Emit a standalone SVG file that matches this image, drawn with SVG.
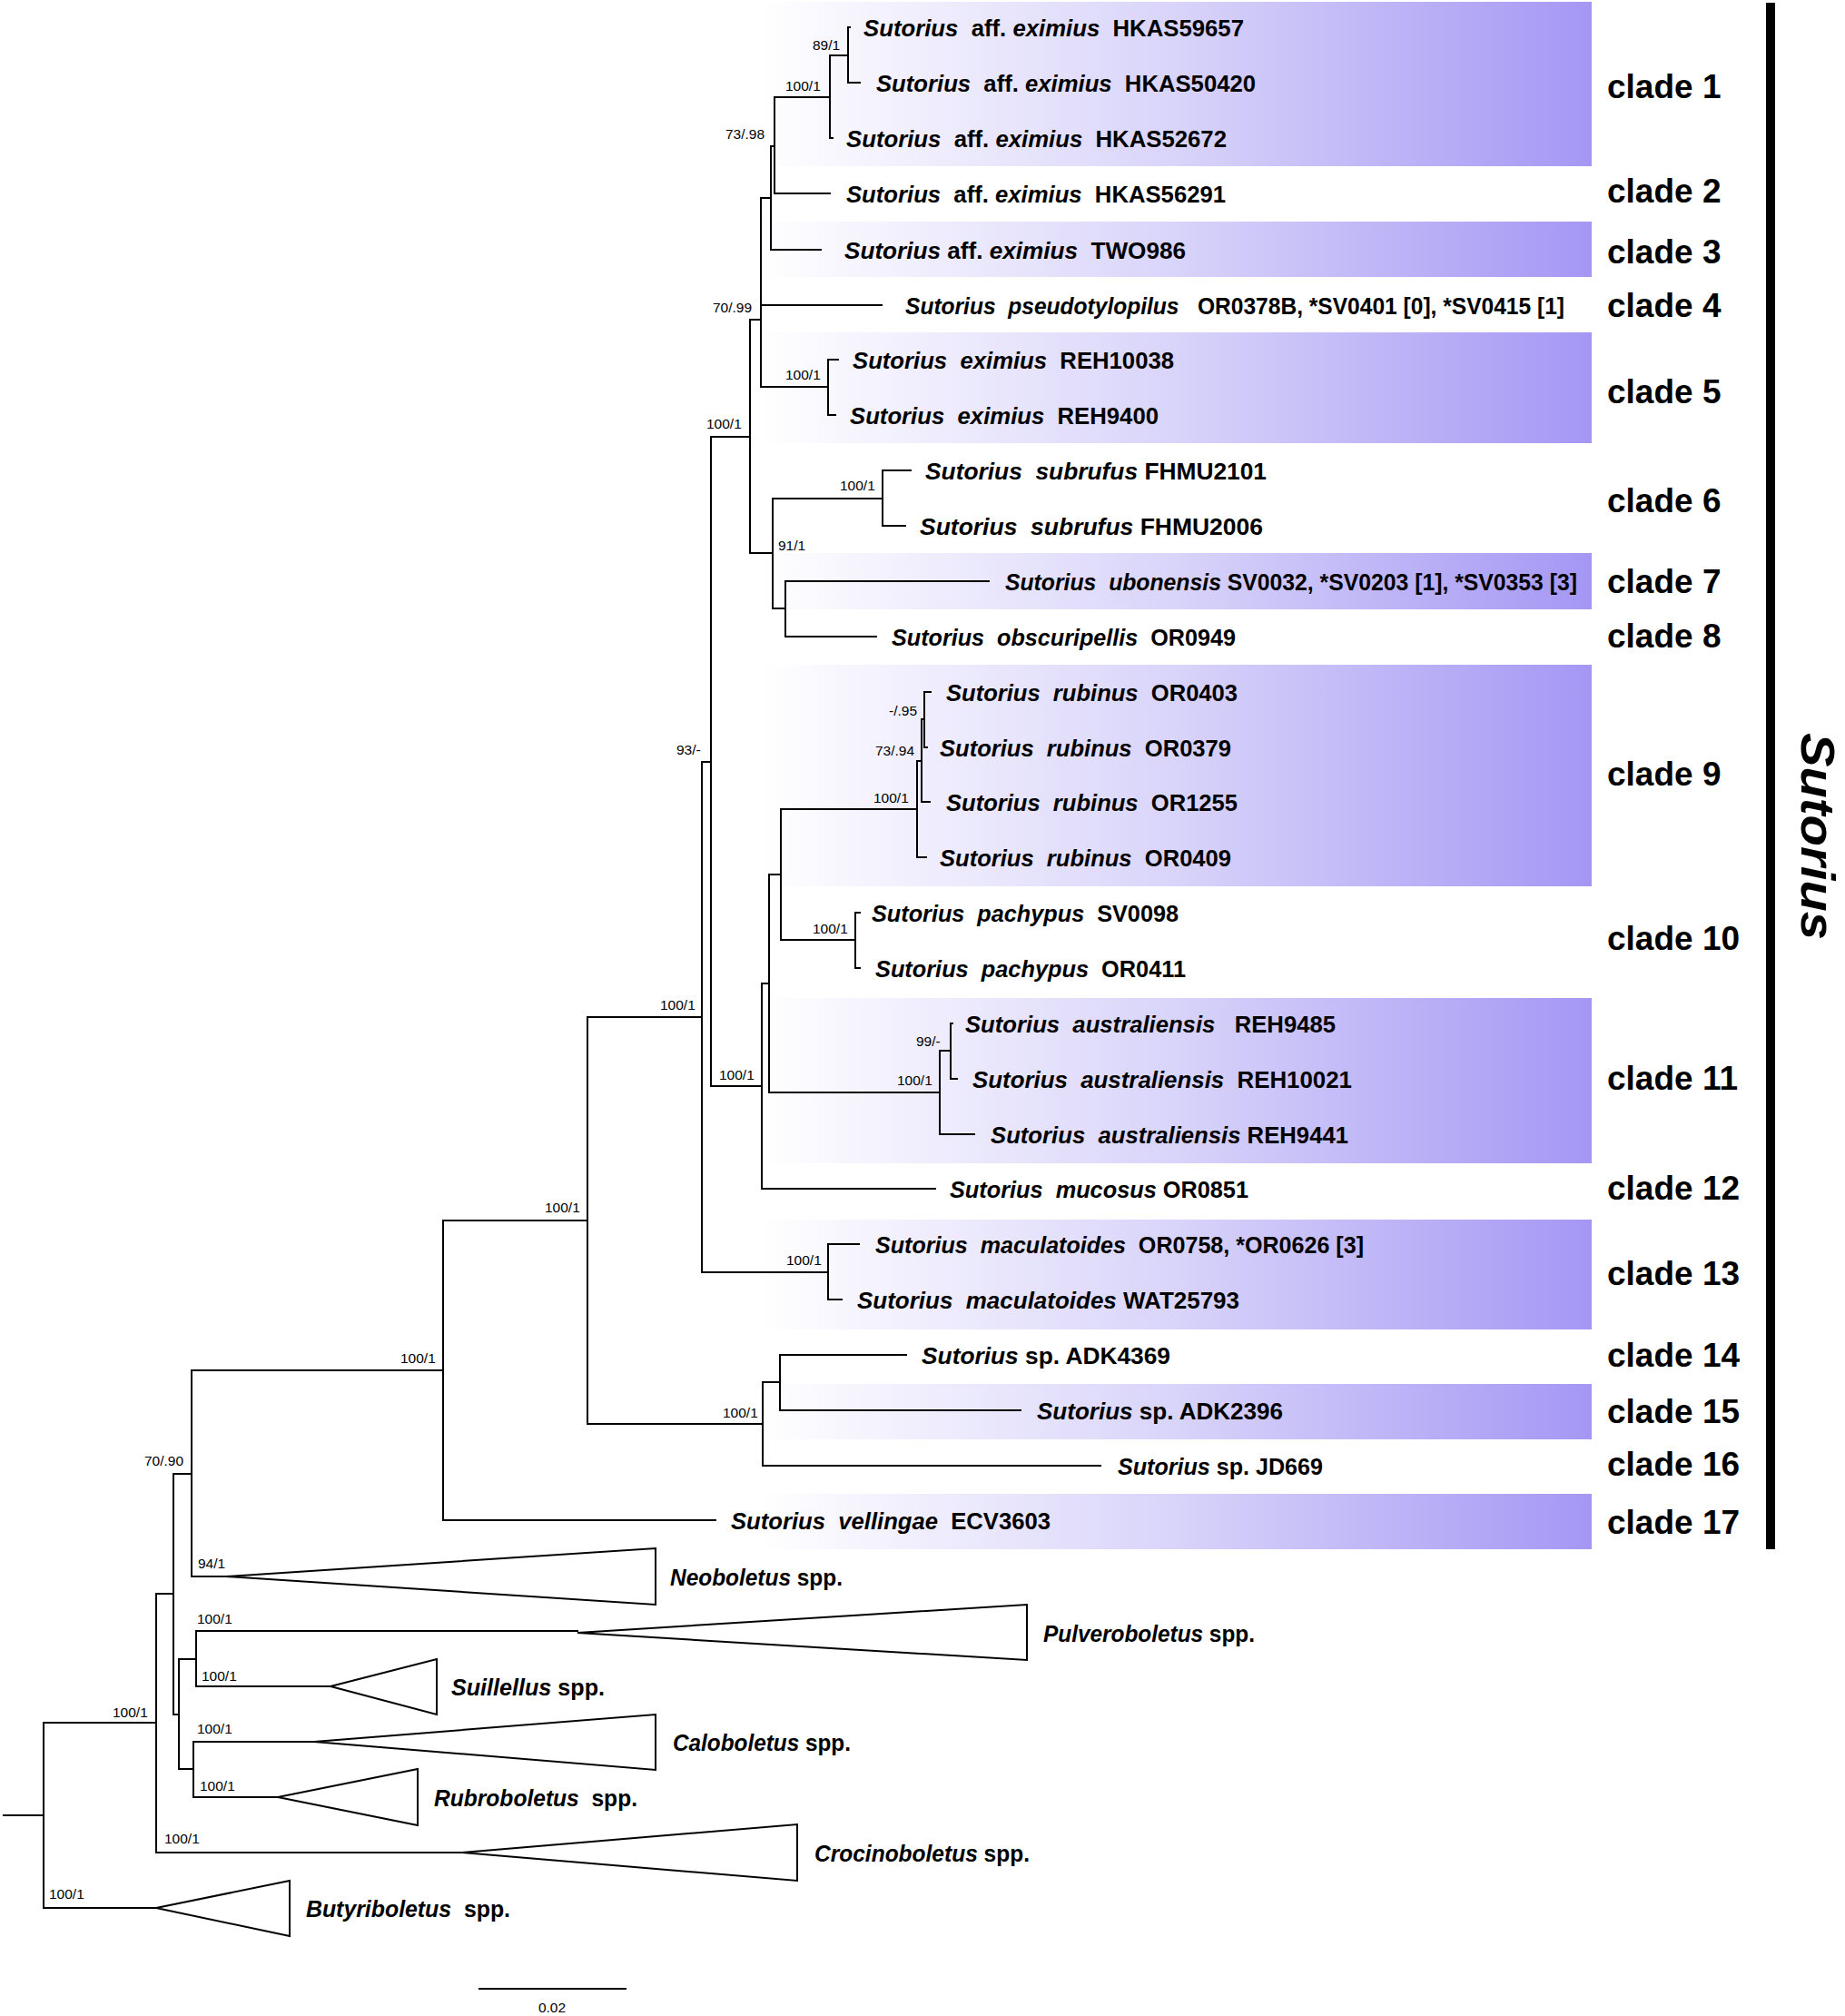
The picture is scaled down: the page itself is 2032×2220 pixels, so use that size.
<svg xmlns="http://www.w3.org/2000/svg" width="2032" height="2220" viewBox="0 0 2032 2220">
<defs>
<linearGradient id="g" gradientUnits="userSpaceOnUse" x1="835" y1="0" x2="1753" y2="0">
<stop offset="0" stop-color="#ffffff"/>
<stop offset="0.5" stop-color="#d9d4fa"/>
<stop offset="1" stop-color="#a497f4"/>
</linearGradient>
<style>
.tx{font-family:"Liberation Sans",Arial,sans-serif;font-weight:bold;font-size:25px;fill:#000}
.i{font-style:italic}
.sp{font-family:"Liberation Sans",Arial,sans-serif;font-size:15.5px;fill:#000}
.cl{font-family:"Liberation Sans",Arial,sans-serif;font-weight:bold;font-size:37px;fill:#000}
.br{fill:none;stroke:#000;stroke-width:2;stroke-linecap:square}
.tri{fill:#fff;stroke:#000;stroke-width:2;stroke-linejoin:miter}
.box{fill:url(#g)}
</style>
</defs>
<rect width="2032" height="2220" fill="#fff"/>
<g id="shading">
<rect class="box" x="840" y="2" width="913" height="181"/>
<rect class="box" x="840" y="244" width="913" height="61"/>
<rect class="box" x="835" y="366" width="918" height="122"/>
<rect class="box" x="840" y="609" width="913" height="62"/>
<rect class="box" x="834" y="732" width="919" height="244"/>
<rect class="box" x="830" y="1099" width="923" height="182"/>
<rect class="box" x="830" y="1343" width="923" height="121"/>
<rect class="box" x="845" y="1524" width="908" height="61"/>
<rect class="box" x="790" y="1645" width="963" height="61"/>
</g>
<g id="connectors" class="br">
<path d="M4 1999H48M48 1897V2101M48 1897H172M48 2101H172"/>
<path d="M172 1755V2040M172 1755H191M172 2040H509"/>
<path d="M191 1623V1888M191 1623H211M191 1888H197"/>
<path d="M197 1827V1948M197 1827H216M197 1948H213"/>
<path d="M216 1796V1857M216 1796H636M216 1857H364"/>
<path d="M213 1918V1979M213 1918H346M213 1979H306"/>
<path d="M211 1509V1736M211 1509H488M211 1736H249"/>
<path d="M488 1344V1674M488 1344H647M488 1674H788"/>
<path d="M647 1120V1568M647 1120H773M647 1568H840"/>
<path d="M840 1522V1614M840 1522H859M840 1614H1212"/>
<path d="M859 1492V1553M859 1492H998M859 1553H1124"/>
<path d="M773 839V1401M773 839H783M773 1401H912"/>
<path d="M912 1370V1431M912 1370H946M912 1431H927"/>
<path d="M783 481V1196M783 481H826M783 1196H839"/>
<path d="M839 1083V1309M839 1083H847M839 1309H1030"/>
<path d="M847 963V1203M847 963H860M847 1203H1035"/>
<path d="M860 891V1035M860 891H1010M860 1035H942"/>
<path d="M942 1005V1066M942 1005H947M942 1066H947"/>
<path d="M1010 838V944M1010 838H1015M1010 944H1020"/>
<path d="M1015 792V883M1015 792H1018M1015 883H1024"/>
<path d="M1018 762V823M1018 762H1025M1018 823H1021"/>
<path d="M1035 1157V1249M1035 1157H1047M1035 1249H1073"/>
<path d="M1047 1127V1188M1047 1127H1049M1047 1188H1054"/>
<path d="M826 352V609M826 352H838M826 609H851"/>
<path d="M838 218V426M838 218H849M838 336H971M838 426H912"/>
<path d="M849 161V275M849 161H853M849 275H904"/>
<path d="M853 107V213M853 107H914M853 213H914"/>
<path d="M914 61V152M914 61H934M914 152H917"/>
<path d="M934 30V91M934 30H936M934 91H947"/>
<path d="M912 396V457M912 396H923M912 457H920"/>
<path d="M851 549V670M851 549H972M851 670H865"/>
<path d="M972 518V579M972 518H1003M972 579H997"/>
<path d="M865 640V701M865 640H1089M865 701H965"/>
<path d="M528 2190H689"/>
</g>
<g id="supports" class="sp">
<text x="895" y="55">89/1</text>
<text x="865" y="100">100/1</text>
<text x="799" y="153">73/.98</text>
<text x="785" y="344">70/.99</text>
<text x="865" y="418">100/1</text>
<text x="778" y="472">100/1</text>
<text x="925" y="540">100/1</text>
<text x="857" y="606">91/1</text>
<text x="979" y="788">-/.95</text>
<text x="964" y="832">73/.94</text>
<text x="962" y="884">100/1</text>
<text x="745" y="831">93/-</text>
<text x="895" y="1028">100/1</text>
<text x="727" y="1112">100/1</text>
<text x="1009" y="1152">99/-</text>
<text x="792" y="1189">100/1</text>
<text x="988" y="1195">100/1</text>
<text x="866" y="1393">100/1</text>
<text x="600" y="1335">100/1</text>
<text x="796" y="1561">100/1</text>
<text x="441" y="1501">100/1</text>
<text x="159" y="1614">70/.90</text>
<text x="218" y="1727">94/1</text>
<text x="217" y="1788">100/1</text>
<text x="222" y="1851">100/1</text>
<text x="217" y="1909">100/1</text>
<text x="220" y="1972">100/1</text>
<text x="181" y="2030">100/1</text>
<text x="124" y="1891">100/1</text>
<text x="54" y="2091">100/1</text>
<text x="608" y="2216" text-anchor="middle">0.02</text>
</g>
<g id="taxa" class="tx">
<g id="t-HKAS59657"><text xml:space="preserve" x="951" y="40" textLength="419" lengthAdjust="spacingAndGlyphs"><tspan class="i">Sutorius</tspan>  aff. <tspan class="i">eximius</tspan>  HKAS59657</text></g>
<g id="t-HKAS50420"><text xml:space="preserve" x="965" y="101" textLength="418" lengthAdjust="spacingAndGlyphs"><tspan class="i">Sutorius</tspan>  aff. <tspan class="i">eximius</tspan>  HKAS50420</text></g>
<g id="t-HKAS52672"><text xml:space="preserve" x="932" y="162" textLength="419" lengthAdjust="spacingAndGlyphs"><tspan class="i">Sutorius</tspan>  aff. <tspan class="i">eximius</tspan>  HKAS52672</text></g>
<g id="t-HKAS56291"><text xml:space="preserve" x="932" y="223" textLength="418" lengthAdjust="spacingAndGlyphs"><tspan class="i">Sutorius</tspan>  aff. <tspan class="i">eximius</tspan>  HKAS56291</text></g>
<g id="t-TWO986"><text xml:space="preserve" x="930" y="285" textLength="376" lengthAdjust="spacingAndGlyphs"><tspan class="i">Sutorius</tspan> aff. <tspan class="i">eximius</tspan>  TWO986</text></g>
<g id="t-pseudotylopilus"><text xml:space="preserve" x="997" y="346" textLength="726" lengthAdjust="spacingAndGlyphs"><tspan class="i">Sutorius</tspan>  <tspan class="i">pseudotylopilus</tspan>   OR0378B, *SV0401 [0], *SV0415 [1]</text></g>
<g id="t-REH10038"><text xml:space="preserve" x="939" y="406" textLength="354" lengthAdjust="spacingAndGlyphs"><tspan class="i">Sutorius</tspan>  <tspan class="i">eximius</tspan>  REH10038</text></g>
<g id="t-REH9400"><text xml:space="preserve" x="936" y="467" textLength="340" lengthAdjust="spacingAndGlyphs"><tspan class="i">Sutorius</tspan>  <tspan class="i">eximius</tspan>  REH9400</text></g>
<g id="t-FHMU2101"><text xml:space="preserve" x="1019" y="528" textLength="376" lengthAdjust="spacingAndGlyphs"><tspan class="i">Sutorius</tspan>  <tspan class="i">subrufus</tspan> FHMU2101</text></g>
<g id="t-FHMU2006"><text xml:space="preserve" x="1013" y="589" textLength="378" lengthAdjust="spacingAndGlyphs"><tspan class="i">Sutorius</tspan>  <tspan class="i">subrufus</tspan> FHMU2006</text></g>
<g id="t-ubonensis"><text xml:space="preserve" x="1107" y="650" textLength="630" lengthAdjust="spacingAndGlyphs"><tspan class="i">Sutorius</tspan>  <tspan class="i">ubonensis</tspan> SV0032, *SV0203 [1], *SV0353 [3]</text></g>
<g id="t-OR0949"><text xml:space="preserve" x="982" y="711" textLength="379" lengthAdjust="spacingAndGlyphs"><tspan class="i">Sutorius</tspan>  <tspan class="i">obscuripellis</tspan>  OR0949</text></g>
<g id="t-OR0403"><text xml:space="preserve" x="1042" y="772" textLength="321" lengthAdjust="spacingAndGlyphs"><tspan class="i">Sutorius</tspan>  <tspan class="i">rubinus</tspan>  OR0403</text></g>
<g id="t-OR0379"><text xml:space="preserve" x="1035" y="833" textLength="321" lengthAdjust="spacingAndGlyphs"><tspan class="i">Sutorius</tspan>  <tspan class="i">rubinus</tspan>  OR0379</text></g>
<g id="t-OR1255"><text xml:space="preserve" x="1042" y="893" textLength="321" lengthAdjust="spacingAndGlyphs"><tspan class="i">Sutorius</tspan>  <tspan class="i">rubinus</tspan>  OR1255</text></g>
<g id="t-OR0409"><text xml:space="preserve" x="1035" y="954" textLength="321" lengthAdjust="spacingAndGlyphs"><tspan class="i">Sutorius</tspan>  <tspan class="i">rubinus</tspan>  OR0409</text></g>
<g id="t-SV0098"><text xml:space="preserve" x="960" y="1015" textLength="338" lengthAdjust="spacingAndGlyphs"><tspan class="i">Sutorius</tspan>  <tspan class="i">pachypus</tspan>  SV0098</text></g>
<g id="t-OR0411"><text xml:space="preserve" x="964" y="1076" textLength="342" lengthAdjust="spacingAndGlyphs"><tspan class="i">Sutorius</tspan>  <tspan class="i">pachypus</tspan>  OR0411</text></g>
<g id="t-REH9485"><text xml:space="preserve" x="1063" y="1137" textLength="408" lengthAdjust="spacingAndGlyphs"><tspan class="i">Sutorius</tspan>  <tspan class="i">australiensis</tspan>   REH9485</text></g>
<g id="t-REH10021"><text xml:space="preserve" x="1071" y="1198" textLength="418" lengthAdjust="spacingAndGlyphs"><tspan class="i">Sutorius</tspan>  <tspan class="i">australiensis</tspan>  REH10021</text></g>
<g id="t-REH9441"><text xml:space="preserve" x="1091" y="1259" textLength="394" lengthAdjust="spacingAndGlyphs"><tspan class="i">Sutorius</tspan>  <tspan class="i">australiensis</tspan> REH9441</text></g>
<g id="t-OR0851"><text xml:space="preserve" x="1046" y="1319" textLength="329" lengthAdjust="spacingAndGlyphs"><tspan class="i">Sutorius</tspan>  <tspan class="i">mucosus</tspan> OR0851</text></g>
<g id="t-OR0758"><text xml:space="preserve" x="964" y="1380" textLength="538" lengthAdjust="spacingAndGlyphs"><tspan class="i">Sutorius</tspan>  <tspan class="i">maculatoides</tspan>  OR0758, *OR0626 [3]</text></g>
<g id="t-WAT25793"><text xml:space="preserve" x="944" y="1441" textLength="421" lengthAdjust="spacingAndGlyphs"><tspan class="i">Sutorius</tspan>  <tspan class="i">maculatoides</tspan> WAT25793</text></g>
<g id="t-ADK4369"><text xml:space="preserve" x="1015" y="1502" textLength="274" lengthAdjust="spacingAndGlyphs"><tspan class="i">Sutorius</tspan> sp. ADK4369</text></g>
<g id="t-ADK2396"><text xml:space="preserve" x="1142" y="1563" textLength="271" lengthAdjust="spacingAndGlyphs"><tspan class="i">Sutorius</tspan> sp. ADK2396</text></g>
<g id="t-JD669"><text xml:space="preserve" x="1231" y="1624" textLength="226" lengthAdjust="spacingAndGlyphs"><tspan class="i">Sutorius</tspan> sp. JD669</text></g>
<g id="t-ECV3603"><text xml:space="preserve" x="805" y="1684" textLength="352" lengthAdjust="spacingAndGlyphs"><tspan class="i">Sutorius</tspan>  <tspan class="i">vellingae</tspan>  ECV3603</text></g>
<g id="t-Neoboletus"><polygon class="tri" points="249,1736 722,1705 722,1767"/><text xml:space="preserve" x="738" y="1746" textLength="190" lengthAdjust="spacingAndGlyphs"><tspan class="i">Neoboletus</tspan> spp.</text></g>
<g id="t-Pulveroboletus"><polygon class="tri" points="636,1798 1131,1767 1131,1828"/><text xml:space="preserve" x="1149" y="1808" textLength="233" lengthAdjust="spacingAndGlyphs"><tspan class="i">Pulveroboletus</tspan> spp.</text></g>
<g id="t-Suillellus"><polygon class="tri" points="364,1857 481,1827 481,1888"/><text xml:space="preserve" x="497" y="1867" textLength="169" lengthAdjust="spacingAndGlyphs"><tspan class="i">Suillellus</tspan> spp.</text></g>
<g id="t-Caloboletus"><polygon class="tri" points="346,1918 722,1888 722,1949"/><text xml:space="preserve" x="741" y="1928" textLength="196" lengthAdjust="spacingAndGlyphs"><tspan class="i">Caloboletus</tspan> spp.</text></g>
<g id="t-Rubroboletus"><polygon class="tri" points="306,1979 460,1948 460,2010"/><text xml:space="preserve" x="478" y="1989" textLength="224" lengthAdjust="spacingAndGlyphs"><tspan class="i">Rubroboletus</tspan>  spp.</text></g>
<g id="t-Crocinoboletus"><polygon class="tri" points="509,2040 878,2009 878,2071"/><text xml:space="preserve" x="897" y="2050" textLength="237" lengthAdjust="spacingAndGlyphs"><tspan class="i">Crocinoboletus</tspan> spp.</text></g>
<g id="t-Butyriboletus"><polygon class="tri" points="172,2101 319,2071 319,2132"/><text xml:space="preserve" x="337" y="2111" textLength="225" lengthAdjust="spacingAndGlyphs"><tspan class="i">Butyriboletus</tspan>  spp.</text></g>
</g>
<g id="clades" class="cl">
<text x="1770" y="108">clade 1</text>
<text x="1770" y="223">clade 2</text>
<text x="1770" y="290">clade 3</text>
<text x="1770" y="349">clade 4</text>
<text x="1770" y="444">clade 5</text>
<text x="1770" y="564">clade 6</text>
<text x="1770" y="653">clade 7</text>
<text x="1770" y="713">clade 8</text>
<text x="1770" y="865">clade 9</text>
<text x="1770" y="1046">clade 10</text>
<text x="1770" y="1200">clade 11</text>
<text x="1770" y="1321">clade 12</text>
<text x="1770" y="1415">clade 13</text>
<text x="1770" y="1505">clade 14</text>
<text x="1770" y="1567">clade 15</text>
<text x="1770" y="1625">clade 16</text>
<text x="1770" y="1689">clade 17</text>
</g>
<g id="genus-bar">
<rect x="1945" y="3" width="10" height="1703" fill="#000"/>
<text transform="translate(1984,921) rotate(90)" text-anchor="middle" font-family="Liberation Sans, Arial, sans-serif" font-weight="bold" font-style="italic" font-size="52" textLength="228" lengthAdjust="spacingAndGlyphs">Sutorius</text>
</g>
</svg>
